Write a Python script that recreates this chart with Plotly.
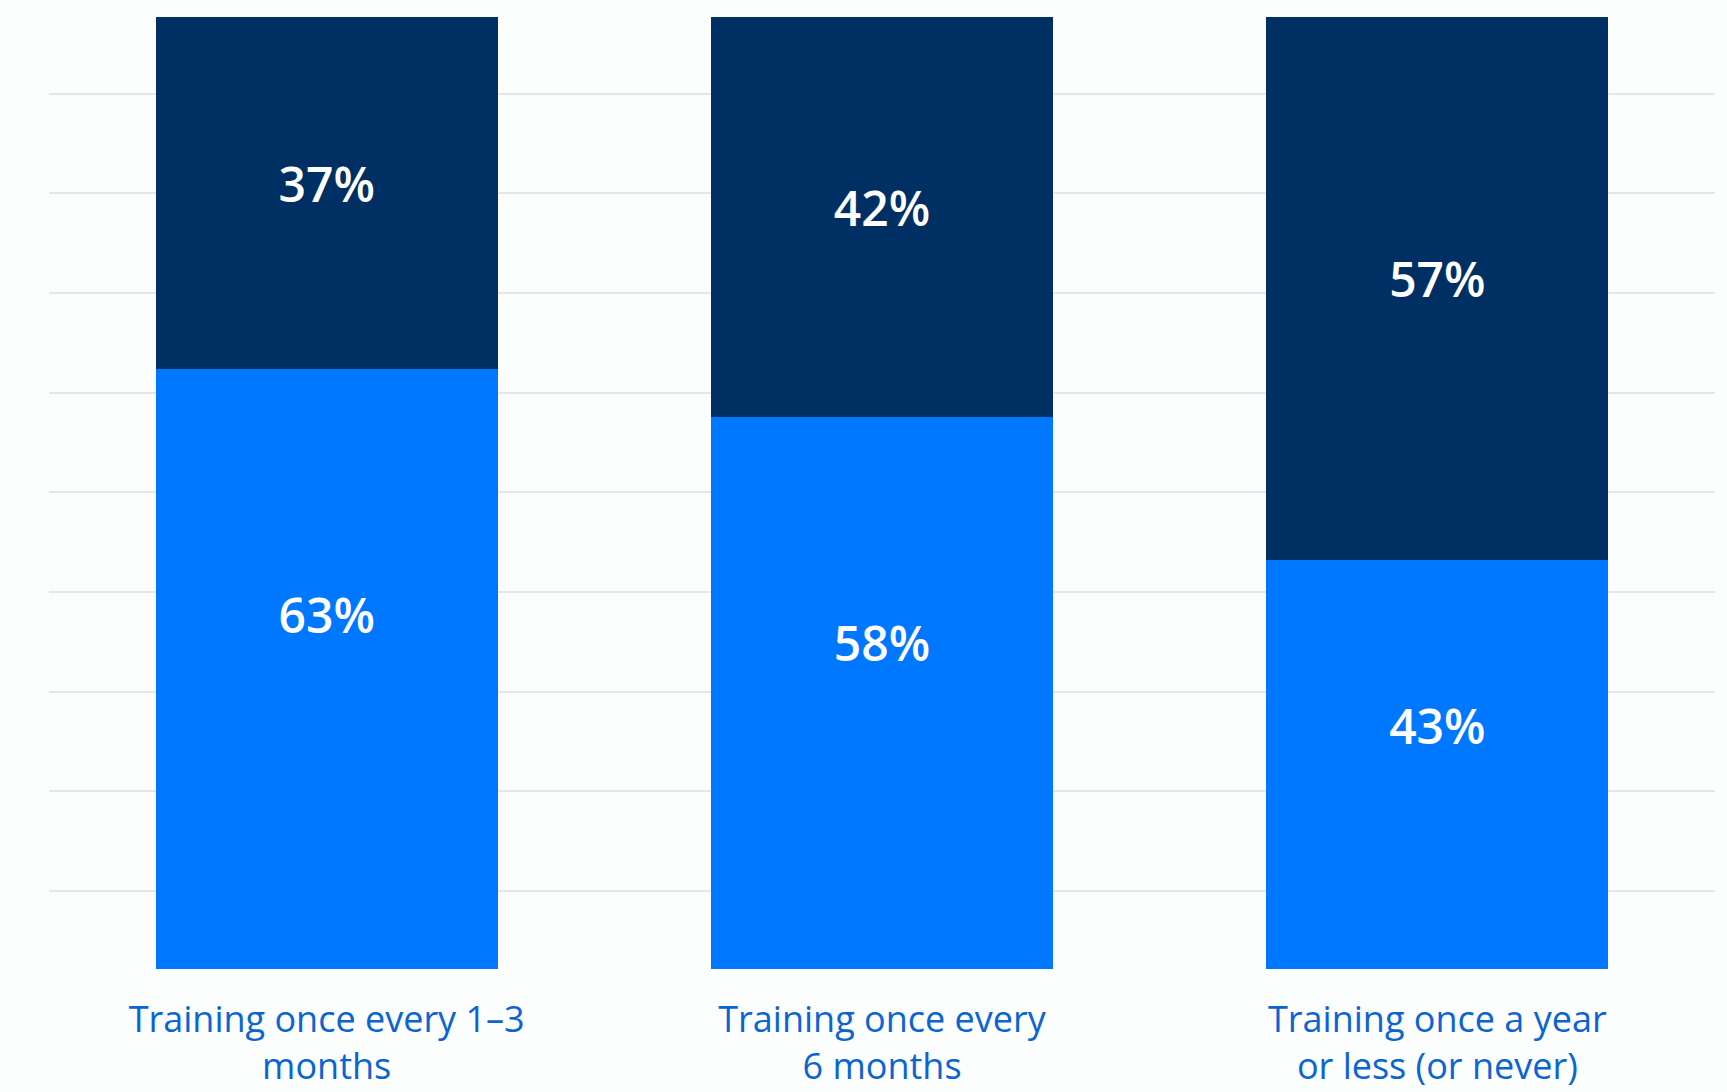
import plotly.graph_objects as go

categories = ["Training once every 1–3<br>months",
              "Training once every<br>6 months",
              "Training once a year<br>or less (or never)"]
lower_values = [63, 58, 43]
upper_values = [37, 42, 57]

LOWER_COLOR = "#0077ff"
UPPER_COLOR = "#003063"
LABEL_COLOR = "#0a64d2"
BG = "#fcfdfd"

fig = go.Figure()
fig.add_trace(go.Bar(x=categories, y=lower_values, marker=dict(color=LOWER_COLOR, line=dict(width=0)),
                     hoverinfo="skip", showlegend=False))
fig.add_trace(go.Bar(x=categories, y=upper_values, marker=dict(color=UPPER_COLOR, line=dict(width=0)),
                     hoverinfo="skip", showlegend=False))

# value labels
lower_label_y = [v * 0.58 for v in lower_values]
upper_label_y = [lo + up / 2 + 0.3 for lo, up in zip(lower_values, upper_values)]
fig.add_trace(go.Scatter(x=categories + categories,
                         y=lower_label_y + upper_label_y,
                         text=[f"{v}%" for v in lower_values + upper_values],
                         mode="text", textposition="middle center",
                         textfont=dict(family="Open Sans", size=48, color="white", weight=600),
                         hoverinfo="skip", showlegend=False))

fig.update_layout(
    barmode="stack",
    bargap=0.384,
    width=1727, height=1092,
    margin=dict(l=49, r=12, t=17, b=123, pad=0),
    paper_bgcolor=BG, plot_bgcolor=BG,
    xaxis=dict(showgrid=False, zeroline=False, showline=False, automargin=False,
               ticks="outside", ticklen=19, tickcolor="rgba(0,0,0,0)",
               tickfont=dict(family="Open Sans", size=36, color=LABEL_COLOR),
               range=[-0.5, 2.5]),
    yaxis=dict(range=[0, 100], showticklabels=False, zeroline=False, showline=False,
               automargin=False,
               showgrid=True, gridcolor="#e6e6e6", gridwidth=2,
               tick0=8.2, dtick=10.47),
)

fig.write_html("out.html",
               config={"displayModeBar": False},
               post_script="document.body.style.margin='0';document.body.style.overflow='hidden';"
                           "document.body.style.background='" + BG + "';")
